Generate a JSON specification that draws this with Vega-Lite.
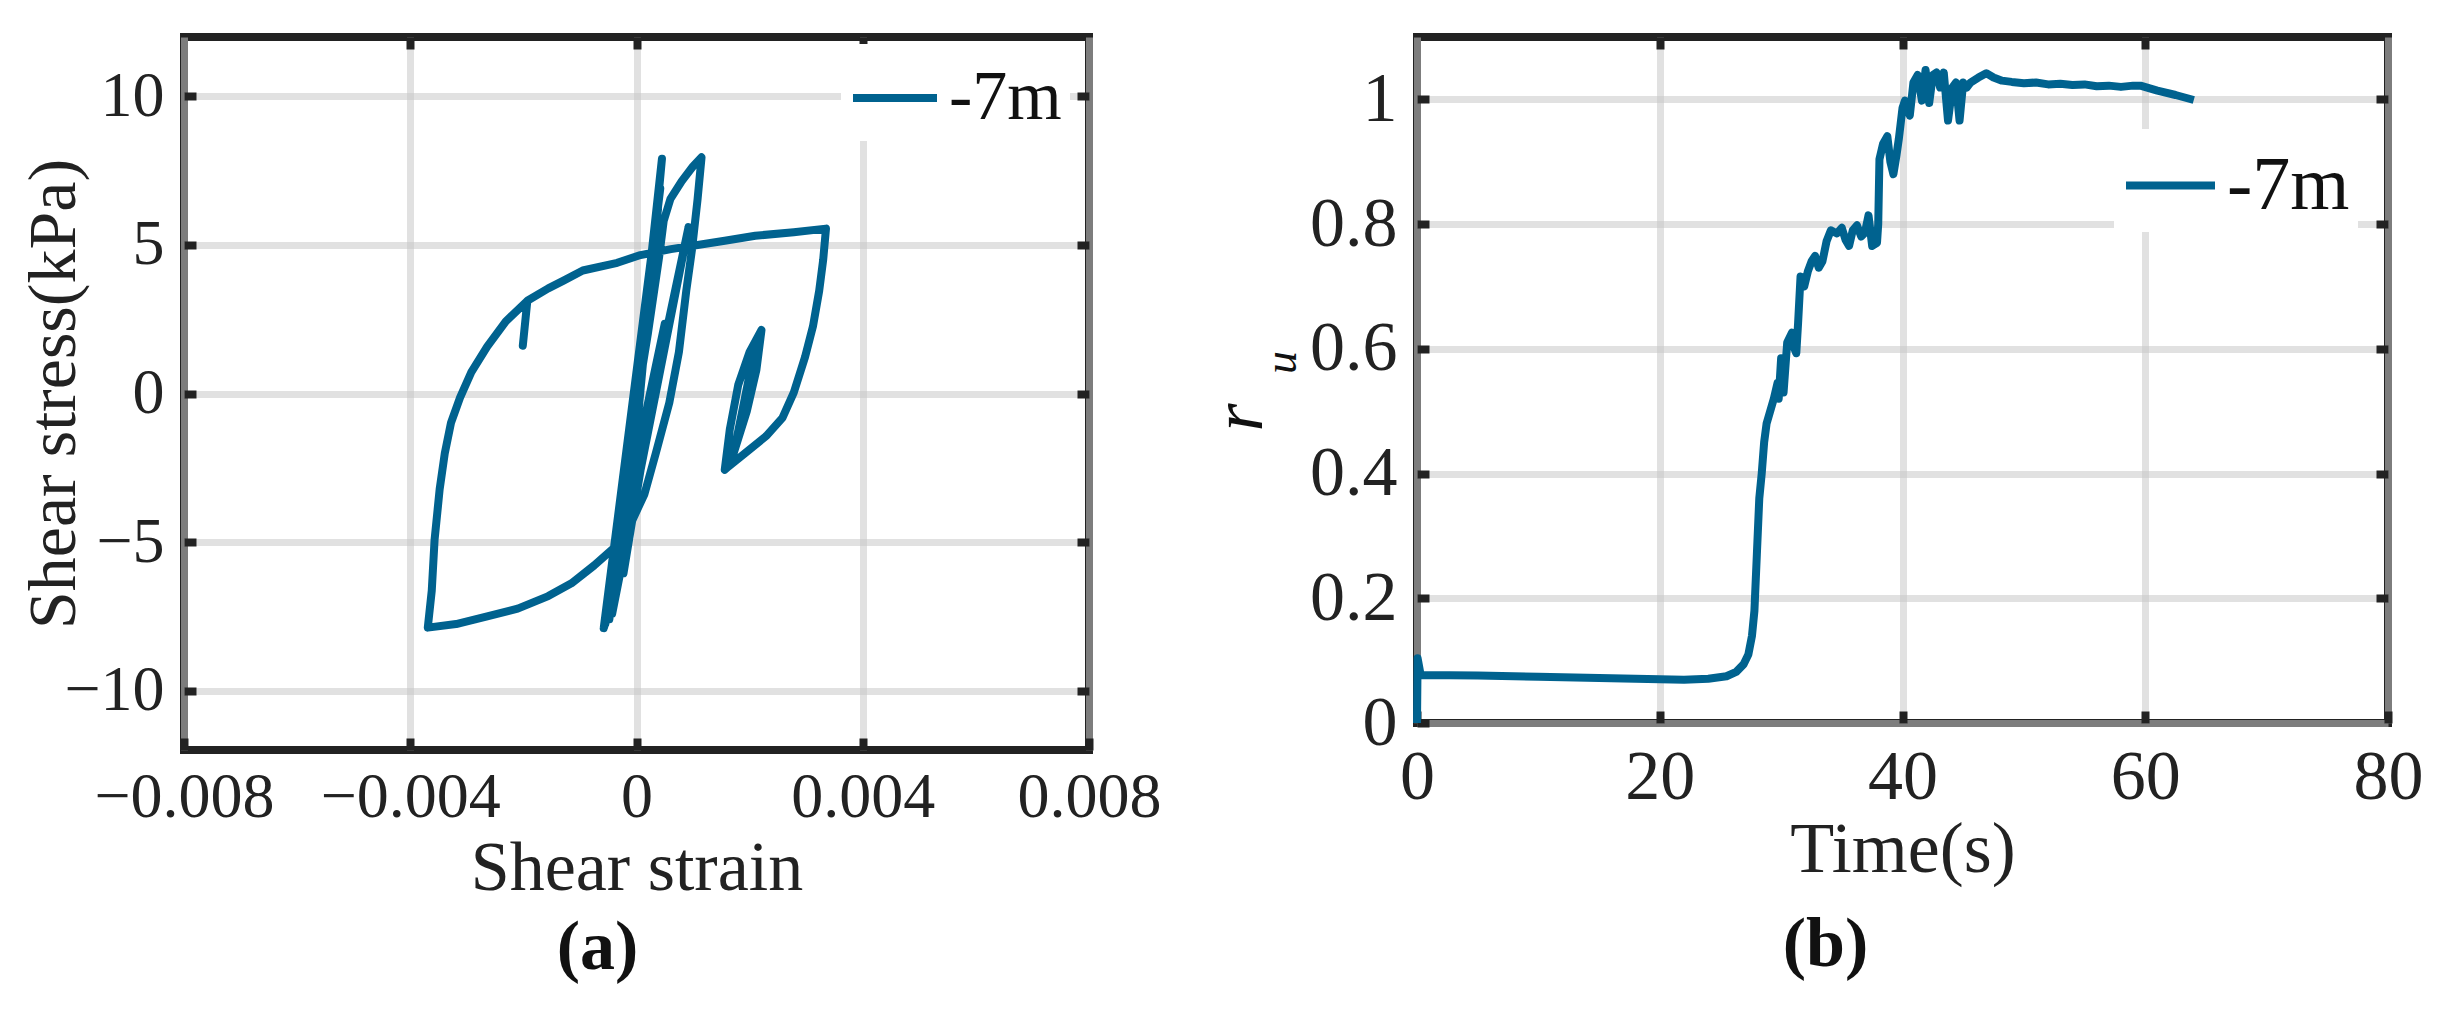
{
  "$schema": "https://vega.github.io/schema/vega-lite/v6.json",
  "background": "white",
  "padding": {"left": 16, "top": 29, "right": 5, "bottom": 5},
  "bounds": "flush",
  "spacing": 328,
  "resolve": {"scale": {"color": "independent"}, "legend": {"color": "independent"}},
  "config": {
    "view": {"stroke": "#222222", "strokeWidth": 8},
    "font": "Liberation Serif",
    "axis": {
      "grid": true, "gridColor": "#c8c8c8", "gridOpacity": 0.55, "gridWidth": 7,
      "domain": false, "ticks": true, "tickColor": "#222222", "tickWidth": 8, "tickSize": -12,
      "labelFont": "Liberation Serif", "labelColor": "#222222", "labelFlush": false, "labelOverlap": false, "labelBound": false, "labelLimit": 0,
      "labelPadding": 32,
      "titleFont": "Liberation Serif", "titleFontWeight": "normal", "titleColor": "#222222"
    },
    "legend": {
      "symbolType": "stroke", "symbolStrokeWidth": 8, "labelFont": "Liberation Serif", "labelColor": "#111111",
      "fillColor": "white", "padding": 8, "labelOffset": 8
    },
    "title": {"font": "Liberation Serif", "color": "#111111"}
  },
  "hconcat": [
    {
      "width": 905, "height": 713,
      "title": {"text": "(a)", "orient": "bottom", "anchor": "middle", "fontSize": 70, "fontWeight": "bold", "offset": 11, "dx": -39},
      "data": {"values": [
        {"i":1,"strain":0,"stress":0},
        {"i":2,"strain":0.0001,"stress":1.5},
        {"i":3,"strain":-0.00008,"stress":-1.5},
        {"i":4,"strain":0.00022,"stress":3.2},
        {"i":5,"strain":-0.00015,"stress":-3.5},
        {"i":6,"strain":0.0005,"stress":2.35},
        {"i":7,"strain":-0.00023,"stress":-6.05},
        {"i":8,"strain":0.00045,"stress":7.9},
        {"i":9,"strain":-0.00043,"stress":-7.41},
        {"i":10,"strain":0.00092,"stress":5.6},
        {"i":11,"strain":-0.00058,"stress":-7.9},
        {"i":12,"strain":0.0003,"stress":5.2},
        {"i":13,"strain":-0.0005,"stress":-7.0},
        {"i":14,"strain":0.00038,"stress":6.2},
        {"i":15,"strain":-0.00048,"stress":-7.6},
        {"i":16,"strain":0.00025,"stress":4.0},
        {"i":17,"strain":-0.00052,"stress":-7.2},
        {"i":18,"strain":0.00036,"stress":5.9},
        {"i":19,"strain":-0.00046,"stress":-6.8},
        {"i":20,"strain":0.00032,"stress":5.5},
        {"i":21,"strain":-0.00055,"stress":-7.75},
        {"i":22,"strain":0.00028,"stress":4.8},
        {"i":23,"strain":-0.0004,"stress":-6.0},
        {"i":24,"strain":0.00042,"stress":6.9},
        {"i":25,"strain":-0.00057,"stress":-7.85},
        {"i":26,"strain":-0.00035,"stress":-5.0},
        {"i":27,"strain":-0.0001,"stress":-1.5},
        {"i":28,"strain":0.0002,"stress":2.0},
        {"i":29,"strain":0.0004,"stress":4.6},
        {"i":30,"strain":0.00048,"stress":5.8},
        {"i":31,"strain":0.0006,"stress":6.55},
        {"i":32,"strain":0.0008,"stress":7.15},
        {"i":33,"strain":0.001,"stress":7.65},
        {"i":34,"strain":0.00115,"stress":7.95},
        {"i":35,"strain":0.00108,"stress":6.54},
        {"i":36,"strain":0.00098,"stress":4.83},
        {"i":37,"strain":0.00088,"stress":3.46},
        {"i":38,"strain":0.00075,"stress":1.4},
        {"i":39,"strain":0.00058,"stress":-0.31},
        {"i":40,"strain":0.00034,"stress":-2.02},
        {"i":41,"strain":0.00014,"stress":-3.39},
        {"i":42,"strain":-0.00007,"stress":-4.25},
        {"i":43,"strain":-0.00034,"stress":-5.1},
        {"i":44,"strain":-0.00075,"stress":-5.79},
        {"i":45,"strain":-0.00115,"stress":-6.39},
        {"i":46,"strain":-0.00156,"stress":-6.82},
        {"i":47,"strain":-0.0021,"stress":-7.24},
        {"i":48,"strain":-0.00264,"stress":-7.5},
        {"i":49,"strain":-0.00319,"stress":-7.76},
        {"i":50,"strain":-0.00369,"stress":-7.88},
        {"i":51,"strain":-0.00362,"stress":-6.64},
        {"i":52,"strain":-0.00357,"stress":-4.93},
        {"i":53,"strain":-0.00348,"stress":-3.22},
        {"i":54,"strain":-0.00339,"stress":-2.02},
        {"i":55,"strain":-0.00328,"stress":-0.99},
        {"i":56,"strain":-0.00312,"stress":-0.14},
        {"i":57,"strain":-0.00292,"stress":0.72},
        {"i":58,"strain":-0.00264,"stress":1.58},
        {"i":59,"strain":-0.00231,"stress":2.43},
        {"i":60,"strain":-0.00193,"stress":3.12},
        {"i":61,"strain":-0.00201,"stress":1.61},
        {"i":62,"strain":-0.00193,"stress":3.12},
        {"i":63,"strain":-0.00156,"stress":3.54},
        {"i":64,"strain":-0.00129,"stress":3.8},
        {"i":65,"strain":-0.00095,"stress":4.14},
        {"i":66,"strain":-0.00034,"stress":4.4},
        {"i":67,"strain":0.00007,"stress":4.66},
        {"i":68,"strain":0.00061,"stress":4.86},
        {"i":69,"strain":0.00108,"stress":5.0},
        {"i":70,"strain":0.00156,"stress":5.14},
        {"i":71,"strain":0.0021,"stress":5.31},
        {"i":72,"strain":0.00278,"stress":5.43},
        {"i":73,"strain":0.00335,"stress":5.55},
        {"i":74,"strain":0.0033,"stress":4.49},
        {"i":75,"strain":0.00323,"stress":3.46},
        {"i":76,"strain":0.00312,"stress":2.26},
        {"i":77,"strain":0.00298,"stress":1.23},
        {"i":78,"strain":0.00278,"stress":0.03},
        {"i":79,"strain":0.00258,"stress":-0.82},
        {"i":80,"strain":0.0023,"stress":-1.42},
        {"i":81,"strain":0.00197,"stress":-1.93},
        {"i":82,"strain":0.00163,"stress":-2.45},
        {"i":83,"strain":0.00156,"stress":-2.57},
        {"i":84,"strain":0.00165,"stress":-1.2},
        {"i":85,"strain":0.0018,"stress":0.3},
        {"i":86,"strain":0.002,"stress":1.4},
        {"i":87,"strain":0.00221,"stress":2.14},
        {"i":88,"strain":0.00212,"stress":0.8},
        {"i":89,"strain":0.00195,"stress":-0.6},
        {"i":90,"strain":0.00172,"stress":-2.0},
        {"i":91,"strain":0.00188,"stress":-0.5},
        {"i":92,"strain":0.0021,"stress":1.6},
        {"i":93,"strain":0.00218,"stress":1.9},
        {"i":94,"strain":0.002,"stress":0.2},
        {"i":95,"strain":0.0018,"stress":-1.3},
        {"i":96,"strain":0.00165,"stress":-2.3}
      ]},
      "layer": [
        {
          "mark": {"type": "line", "strokeWidth": 8, "strokeJoin": "round", "strokeCap": "round"},
          "encoding": {
            "x": {"field": "strain", "type": "quantitative", "scale": {"domain": [-0.008, 0.008], "nice": false, "zero": false},
                  "axis": {"orient": "bottom", "values": [-0.008, -0.004, 0, 0.004, 0.008], "format": "~r", "labelFontSize": 64, "labelPadding": 27, "title": "Shear strain", "titleFontSize": 70, "titlePadding": 5}},
            "y": {"field": "stress", "type": "quantitative", "scale": {"domain": [-12, 12], "nice": false, "zero": false},
                  "axis": {"orient": "left", "values": [-10, -5, 0, 5, 10], "format": "~r", "labelFontSize": 64, "title": "Shear stress(kPa)", "titleFontSize": 68, "titleX": -110, "titleY": 356.5, "titleBaseline": "alphabetic", "titleAngle": 270, "titleAlign": "center"}},
            "order": {"field": "i", "type": "quantitative"},
            "color": {"datum": "-7m", "type": "nominal", "scale": {"range": ["#00628f"]},
                      "legend": {"title": null, "orient": "none", "legendX": 657, "legendY": 7, "labelFontSize": 70, "symbolSize": 7056}}
          }
        },
        {
          "mark": {"type": "line", "strokeOpacity": 0},
          "encoding": {
            "x": {"field": "strain", "type": "quantitative", "scale": {"domain": [-0.008, 0.008], "nice": false, "zero": false},
                  "axis": {"orient": "top", "values": [-0.004, 0, 0.004], "labels": false, "grid": false, "title": null}},
            "y": {"field": "stress", "type": "quantitative", "scale": {"domain": [-12, 12], "nice": false, "zero": false},
                  "axis": {"orient": "right", "values": [-10, -5, 0, 5, 10], "labels": false, "grid": false, "title": null}},
            "order": {"field": "i", "type": "quantitative"}
          }
        }
      ],
      "resolve": {"axis": {"x": "independent", "y": "independent"}}
    },
    {
      "width": 971, "height": 686,
      "title": {"text": "(b)", "orient": "bottom", "anchor": "middle", "fontSize": 70, "fontWeight": "bold", "offset": 26, "dx": -77},
      "data": {"values": [
        {"t":0,"ru":0},{"t":0.05,"ru":0.104},{"t":0.3,"ru":0.077},{"t":5,"ru":0.076},{"t":10,"ru":0.074},
        {"t":15,"ru":0.072},{"t":20,"ru":0.07},{"t":22,"ru":0.0695},{"t":24,"ru":0.071},{"t":25.5,"ru":0.075},
        {"t":26.3,"ru":0.082},{"t":26.9,"ru":0.094},{"t":27.3,"ru":0.11},{"t":27.6,"ru":0.14},{"t":27.8,"ru":0.18},
        {"t":28.0,"ru":0.27},{"t":28.2,"ru":0.36},{"t":28.4,"ru":0.4},{"t":28.6,"ru":0.45},{"t":28.8,"ru":0.48},
        {"t":29.1,"ru":0.5},{"t":29.4,"ru":0.52},{"t":29.7,"ru":0.545},{"t":29.8,"ru":0.52},{"t":30.0,"ru":0.585},
        {"t":30.2,"ru":0.53},{"t":30.5,"ru":0.61},{"t":30.9,"ru":0.626},{"t":31.1,"ru":0.6},{"t":31.25,"ru":0.593},
        {"t":31.4,"ru":0.642},{"t":31.6,"ru":0.716},{"t":31.9,"ru":0.7},{"t":32.2,"ru":0.724},{"t":32.5,"ru":0.74},
        {"t":32.8,"ru":0.749},{"t":33.1,"ru":0.73},{"t":33.4,"ru":0.74},{"t":33.75,"ru":0.773},{"t":34.1,"ru":0.79},
        {"t":34.6,"ru":0.785},{"t":35.0,"ru":0.794},{"t":35.3,"ru":0.775},{"t":35.6,"ru":0.765},{"t":35.9,"ru":0.79},
        {"t":36.25,"ru":0.798},{"t":36.6,"ru":0.78},{"t":36.9,"ru":0.786},{"t":37.2,"ru":0.814},{"t":37.5,"ru":0.765},
        {"t":37.9,"ru":0.77},{"t":38.0,"ru":0.8},{"t":38.1,"ru":0.904},{"t":38.4,"ru":0.929},{"t":38.75,"ru":0.941},
        {"t":39.0,"ru":0.9},{"t":39.25,"ru":0.88},{"t":39.5,"ru":0.91},{"t":39.7,"ru":0.937},{"t":40.0,"ru":0.986},
        {"t":40.2,"ru":0.998},{"t":40.6,"ru":0.974},{"t":40.9,"ru":1.027},{"t":41.25,"ru":1.039},{"t":41.6,"ru":0.998},
        {"t":41.9,"ru":1.047},{"t":42.2,"ru":0.994},{"t":42.5,"ru":1.039},{"t":42.8,"ru":1.043},{"t":43.1,"ru":1.019},
        {"t":43.4,"ru":1.043},{"t":43.75,"ru":0.966},{"t":44.1,"ru":1.019},{"t":44.4,"ru":1.027},{"t":44.7,"ru":0.966},
        {"t":45.0,"ru":1.027},{"t":45.3,"ru":1.019},{"t":45.6,"ru":1.027},{"t":46.25,"ru":1.035},{"t":46.9,"ru":1.042},
        {"t":47.5,"ru":1.035},{"t":48.2,"ru":1.03},{"t":49.0,"ru":1.028},{"t":50.0,"ru":1.026},{"t":51.0,"ru":1.027},
        {"t":52.0,"ru":1.024},{"t":53.0,"ru":1.025},{"t":54.0,"ru":1.023},{"t":55.0,"ru":1.024},{"t":56.0,"ru":1.021},
        {"t":57.0,"ru":1.022},{"t":58.0,"ru":1.02},{"t":59.0,"ru":1.022},{"t":59.6,"ru":1.022},{"t":61.0,"ru":1.014},
        {"t":62.5,"ru":1.007},{"t":64.0,"ru":0.999}
      ]},
      "layer": [
        {
          "mark": {"type": "line", "strokeWidth": 8, "strokeJoin": "round"},
          "encoding": {
            "x": {"field": "t", "type": "quantitative", "scale": {"domain": [0, 80], "nice": false},
                  "axis": {"orient": "bottom", "values": [0, 20, 40, 60, 80], "format": "~r", "labelFontSize": 70, "title": "Time(s)", "titleFontSize": 72, "titlePadding": 2}},
            "y": {"field": "ru", "type": "quantitative", "scale": {"domain": [0, 1.1], "nice": false},
                  "axis": {"orient": "left", "values": [0, 0.2, 0.4, 0.6, 0.8, 1], "format": "~r", "labelFontSize": 70, "title": null}},
            "color": {"datum": "-7m", "type": "nominal", "scale": {"range": ["#00628f"]},
                      "legend": {"title": null, "orient": "none", "legendX": 697, "legendY": 92, "labelFontSize": 76, "symbolSize": 7921}}
          }
        },
        {
          "mark": {"type": "line", "strokeOpacity": 0},
          "encoding": {
            "x": {"field": "t", "type": "quantitative", "scale": {"domain": [0, 80], "nice": false},
                  "axis": {"orient": "top", "values": [20, 40, 60], "labels": false, "grid": false, "title": null}},
            "y": {"field": "ru", "type": "quantitative", "scale": {"domain": [0, 1.1], "nice": false},
                  "axis": {"orient": "right", "values": [0.2, 0.4, 0.6, 0.8, 1], "labels": false, "grid": false, "title": null}}
          }
        },
        {
          "data": {"values": [{}]},
          "mark": {"type": "text", "text": "r", "font": "Liberation Serif", "fontStyle": "italic", "fontSize": 72, "angle": 270, "align": "center", "baseline": "alphabetic", "color": "#111111"},
          "encoding": {
            "x": {"datum": -12.8, "type": "quantitative", "scale": {"domain": [0, 80], "nice": false}, "axis": null},
            "y": {"datum": 0.49, "type": "quantitative", "scale": {"domain": [0, 1.1], "nice": false}, "axis": null}
          }
        },
        {
          "data": {"values": [{}]},
          "mark": {"type": "text", "text": "u", "font": "Liberation Serif", "fontStyle": "italic", "fontSize": 46, "angle": 270, "align": "center", "baseline": "alphabetic", "color": "#111111"},
          "encoding": {
            "x": {"datum": -10.0, "type": "quantitative", "scale": {"domain": [0, 80], "nice": false}, "axis": null},
            "y": {"datum": 0.578, "type": "quantitative", "scale": {"domain": [0, 1.1], "nice": false}, "axis": null}
          }
        }
      ],
      "resolve": {"axis": {"x": "independent", "y": "independent"}}
    }
  ]
}
